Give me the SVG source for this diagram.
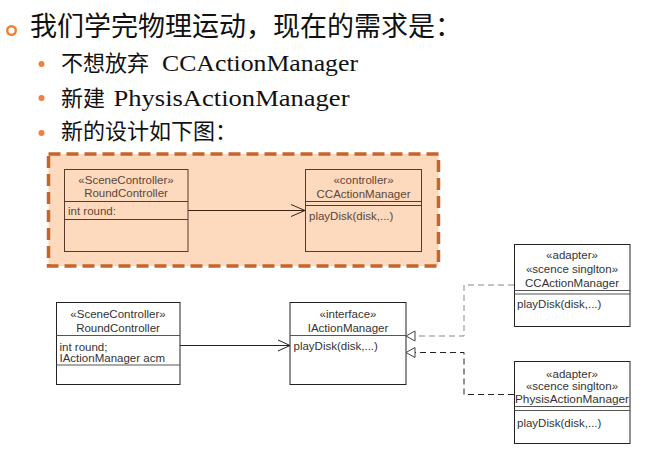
<svg xmlns="http://www.w3.org/2000/svg" width="655" height="454" viewBox="0 0 655 454">
  <defs>
    <style>
      .title { font-family: "Liberation Serif", "Noto Sans CJK SC", serif; fill: #111; }
      .uml { font-family: "Liberation Sans", Arial, sans-serif; font-size: 11.5px; }
      .top-t { fill: #5e4637; }
      .bot-t { fill: #333; }
      .c { text-anchor: middle; }
      .box-top { fill: none; stroke: #5a3a26; stroke-width: 1; }
      .box-bot { fill: #fff; stroke: #222; stroke-width: 1; }
      .sep-top { stroke: #5a3a26; stroke-width: 1; }
      .sep-bot { stroke: #555; stroke-width: 1; }
    </style>
    <marker id="open" markerWidth="14" markerHeight="14" refX="13" refY="7" orient="auto" markerUnits="userSpaceOnUse">
      <path d="M1,1.5 L13,7 L1,12.5" fill="none" stroke="#222" stroke-width="1"/>
    </marker>
    <marker id="open-brown" markerWidth="16" markerHeight="14" refX="15" refY="7" orient="auto" markerUnits="userSpaceOnUse">
      <path d="M1,1 L15,7 L1,13" fill="none" stroke="#3a2418" stroke-width="1"/>
    </marker>
    <marker id="tri" markerWidth="12" markerHeight="12" refX="10" refY="6" orient="auto" markerUnits="userSpaceOnUse">
      <path d="M1,1 L10,6 L1,11 Z" fill="#fff" stroke="#444" stroke-width="1"/>
    </marker>
  </defs>

  <!-- heading and bullets -->
  <g id="heading">
    <circle cx="11.5" cy="30.5" r="4.3" fill="none" stroke="#f07f35" stroke-width="2.4"/>
    <text class="title" x="30" y="36" font-size="27">我们学完物理运动，现在的需求是：</text>
  </g>
  <g id="bullet1">
    <circle cx="41.5" cy="64" r="3" fill="#f08040"/>
    <text class="title" y="71" font-size="22"><tspan x="61">不想放弃</tspan><tspan x="162" font-size="23" textLength="196" lengthAdjust="spacingAndGlyphs">CCActionManager</tspan></text>
  </g>
  <g id="bullet2">
    <circle cx="41.5" cy="98" r="3" fill="#f08040"/>
    <text class="title" y="105.5" font-size="22"><tspan x="61">新建</tspan><tspan x="113.5" font-size="23" textLength="236" lengthAdjust="spacingAndGlyphs">PhysisActionManager</tspan></text>
  </g>
  <g id="bullet3">
    <circle cx="41.5" cy="133" r="3" fill="#f08040"/>
    <text class="title" x="61" y="139" font-size="22">新的设计如下图：</text>
  </g>

  <!-- old design panel -->
  <g id="old-design">
    <rect x="48.5" y="154" width="390" height="112" fill="#fdd9be" stroke="#c4662c" stroke-width="3.5" stroke-dasharray="12 6"/>
  </g>

  <g id="old-RoundController" class="uml top-t">
    <rect class="box-top" x="64.5" y="169.5" width="123.5" height="82"/>
    <line class="sep-top" x1="64.5" y1="201.5" x2="188" y2="201.5"/>
    <line class="sep-top" x1="64.5" y1="219.5" x2="188" y2="219.5"/>
    <text class="c" x="126" y="183.5">«SceneController»</text>
    <text class="c" x="126" y="197">RoundController</text>
    <text x="68" y="214.5">int round:</text>
  </g>

  <g id="old-CCActionManager" class="uml top-t">
    <rect class="box-top" x="305.5" y="169.5" width="116" height="82"/>
    <line class="sep-top" x1="305.5" y1="201.5" x2="421.5" y2="201.5"/>
    <line class="sep-top" x1="305.5" y1="205.5" x2="421.5" y2="205.5"/>
    <text class="c" x="363.5" y="183.5">«controller»</text>
    <text class="c" x="363.5" y="197.5">CCActionManager</text>
    <text x="309" y="220">playDisk(disk,...)</text>
  </g>

  <!-- new design -->
  <g id="RoundController" class="uml bot-t">
    <rect class="box-bot" x="56.5" y="302.5" width="123.5" height="82"/>
    <line class="sep-bot" x1="56.5" y1="335.5" x2="180" y2="335.5"/>
    <line class="sep-bot" x1="56.5" y1="365" x2="180" y2="365"/>
    <text class="c" x="118" y="317.5">«SceneController»</text>
    <text class="c" x="118" y="331.5">RoundController</text>
    <text x="59.5" y="350.5">int round;</text>
    <text x="59.5" y="361.5">IActionManager acm</text>
  </g>

  <g id="IActionManager" class="uml bot-t">
    <rect class="box-bot" x="290" y="302.5" width="116" height="82"/>
    <line class="sep-bot" x1="290" y1="335.5" x2="406" y2="335.5"/>
    <text class="c" x="348" y="317.5">«interface»</text>
    <text class="c" x="348" y="332">IActionManager</text>
    <text x="293.5" y="350">playDisk(disk,...)</text>
  </g>

  <g id="CCActionManager" class="uml bot-t">
    <rect class="box-bot" x="514.5" y="244.5" width="115.5" height="82"/>
    <line class="sep-bot" x1="514.5" y1="290.5" x2="630" y2="290.5"/>
    <line class="sep-bot" x1="514.5" y1="294" x2="630" y2="294"/>
    <text class="c" x="572" y="259">«adapter»</text>
    <text class="c" x="572" y="273">«scence singlton»</text>
    <text class="c" x="572" y="286.5">CCActionManager</text>
    <text x="517" y="308">playDisk(disk,...)</text>
  </g>

  <g id="PhysisActionManager" class="uml bot-t">
    <rect class="box-bot" x="514.5" y="361.5" width="115.5" height="82"/>
    <line class="sep-bot" x1="514.5" y1="406.5" x2="630" y2="406.5"/>
    <line class="sep-bot" x1="514.5" y1="410.5" x2="630" y2="410.5"/>
    <text class="c" x="572" y="378">«adapter»</text>
    <text class="c" x="572" y="390">«scence singlton»</text>
    <text class="c" x="572" y="402.5" textLength="114" lengthAdjust="spacingAndGlyphs">PhysisActionManager</text>
    <text x="517" y="427">playDisk(disk,...)</text>
  </g>

  <!-- connectors -->
  <g id="connectors" fill="none">
    <line x1="188" y1="210.5" x2="305" y2="210.5" stroke="#3a2418" stroke-width="1" marker-end="url(#open-brown)"/>
    <line x1="180" y1="345.5" x2="290" y2="345.5" stroke="#222" stroke-width="1" marker-end="url(#open)"/>
    <polyline points="514,285 464,285 464,336 406,336" stroke="#888" stroke-width="1" stroke-dasharray="6 4" marker-end="url(#tri)"/>
    <polyline points="514,394.5 464,394.5 464,352.5 406,352.5" stroke="#222" stroke-width="1" stroke-dasharray="6 4" marker-end="url(#tri)"/>
  </g>
</svg>
